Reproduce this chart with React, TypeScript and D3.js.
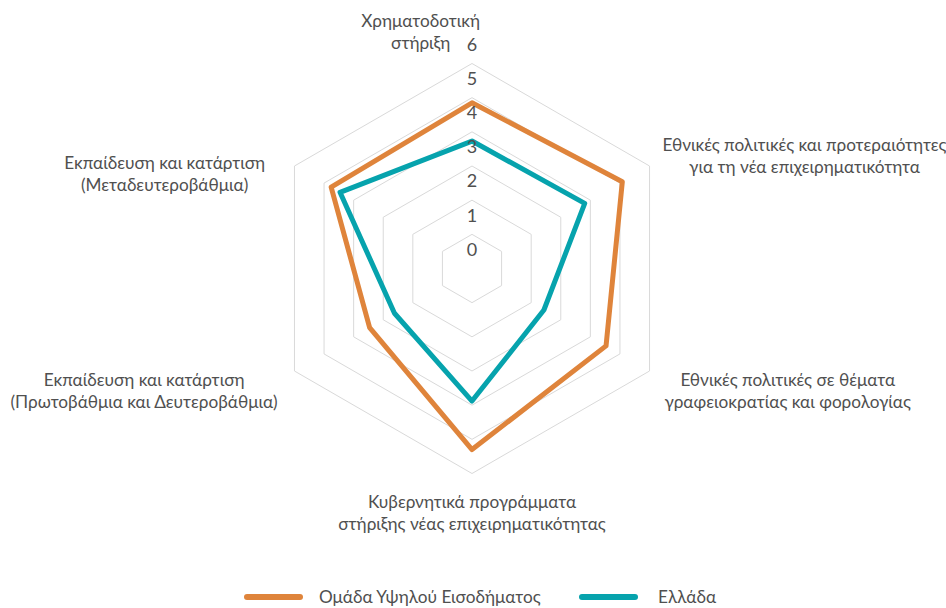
import React from "react";
import * as d3 from "d3";

const categories: string[][] = [
  ["Χρηματοδοτική", "στήριξη"],
  ["Εθνικές πολιτικές και προτεραιότητες", "για τη νέα επιχειρηματικότητα"],
  ["Εθνικές πολιτικές σε θέματα", "γραφειοκρατίας και φορολογίας"],
  ["Κυβερνητικά προγράμματα", "στήριξης νέας επιχειρηματικότητας"],
  ["Εκπαίδευση και κατάρτιση", "(Πρωτοβάθμια και Δευτεροβάθμια)"],
  ["Εκπαίδευση και κατάρτιση", "(Μεταδευτεροβάθμια)"],
];
const highIncome: number[] = [4.85, 5.08, 4.53, 5.3, 3.46, 4.76];
const greece: number[] = [3.73, 3.81, 2.43, 3.88, 2.62, 4.46];
const ticks: number[] = [0, 1, 2, 3, 4, 5, 6];
const seriesNames = ["Ομάδα Υψηλού Εισοδήματος", "Ελλάδα"];
const seriesColors = ["#DF843B", "#06A3AD"];

// layout (not data): gap from outer vertex horizontally, block-middle offset vertically
const labelGap = [8, 13, 15, 0, 16.5, 29.5];
const labelMidDy = [-32, -10.5, 19.5, 39, 20, 7.5];
const legendLineX = [247, 582];
const legendTextX = [319, 658];

const W = 946;
const H = 608;
const cx = 472;
const cy = 268.5;
const R = 205;
const FONT = "Lato, 'Noto Sans', sans-serif";
const LABEL_SIZE = 17.2;
const TEXT_COLOR = "#505050";

let ctx: CanvasRenderingContext2D | null = null;
function measure(t: string, size: number) {
  if (!ctx) ctx = document.createElement("canvas").getContext("2d");
  if (!ctx) return t.length * size * 0.5;
  ctx.font = `${size}px ${FONT}`;
  return ctx.measureText(t).width;
}

export default function App() {
  const n = categories.length;
  const r = d3.scaleLinear().domain([0, 6]).range([0, R]);
  const angle = (i: number) => (i * 2 * Math.PI) / n;
  const pt = (i: number, rad: number): [number, number] => [
    cx + rad * Math.sin(angle(i)),
    cy - rad * Math.cos(angle(i)),
  ];
  const radial = d3
    .lineRadial<number>()
    .angle((_, i) => angle(i))
    .radius((v) => r(v))
    .curve(d3.curveLinearClosed);

  const series = [highIncome, greece];
  const lineH = 22;

  return (
    <svg width={W} height={H} style={{ display: "block", position: "absolute", left: 0, top: 0 }}>
      <rect width={W} height={H} fill="#ffffff" />
      <g>
        {ticks.slice(1).map((t) => (
          <polygon
            key={t}
            points={categories.map((_, i) => pt(i, r(t)).join(",")).join(" ")}
            fill="none"
            stroke="#d9d9d9"
            strokeWidth={1}
          />
        ))}
      </g>
      <g transform={`translate(${cx},${cy})`}>
        {series.map((s, k) => (
          <path
            key={k}
            d={radial(s) || ""}
            fill="none"
            stroke={seriesColors[k]}
            strokeWidth={5}
            strokeLinejoin="round"
          />
        ))}
      </g>
      <g fontFamily={FONT} fontSize={18} fill={TEXT_COLOR} textAnchor="middle">
        {ticks.map((t) => (
          <text key={t} x={cx} y={cy - r(t) - 19} dy="0.35em">
            {t}
          </text>
        ))}
      </g>
      <g fontFamily={FONT} fontSize={LABEL_SIZE} fill={TEXT_COLOR} textAnchor="middle">
        {categories.map((lines, i) => {
          const [vx, vy] = pt(i, R);
          const wmax = Math.max(...lines.map((l) => measure(l, LABEL_SIZE)));
          const s = Math.sin(angle(i));
          const c = Math.cos(angle(i));
          let x = vx;
          if (Math.abs(s) < 0.01) {
            x = c > 0 ? vx + labelGap[i] - wmax / 2 : vx;
          } else {
            x = vx + (s > 0 ? labelGap[i] + wmax / 2 : -(labelGap[i] + wmax / 2));
          }
          const y0 = vy + labelMidDy[i] - (lineH * (lines.length - 1)) / 2;
          return (
            <text key={i} x={x} y={y0}>
              {lines.map((l, j) => (
                <tspan key={j} x={x} dy={j === 0 ? "0.35em" : lineH}>
                  {l}
                </tspan>
              ))}
            </text>
          );
        })}
      </g>
      <g fontFamily={FONT} fontSize={LABEL_SIZE} fill={TEXT_COLOR}>
        {seriesNames.map((name, k) => (
          <g key={k}>
            <line
              x1={legendLineX[k]}
              x2={legendLineX[k] + 53}
              y1={597}
              y2={597}
              stroke={seriesColors[k]}
              strokeWidth={6}
              strokeLinecap="round"
            />
            <text x={legendTextX[k]} y={597} dy="0.35em">
              {name}
            </text>
          </g>
        ))}
      </g>
    </svg>
  );
}
